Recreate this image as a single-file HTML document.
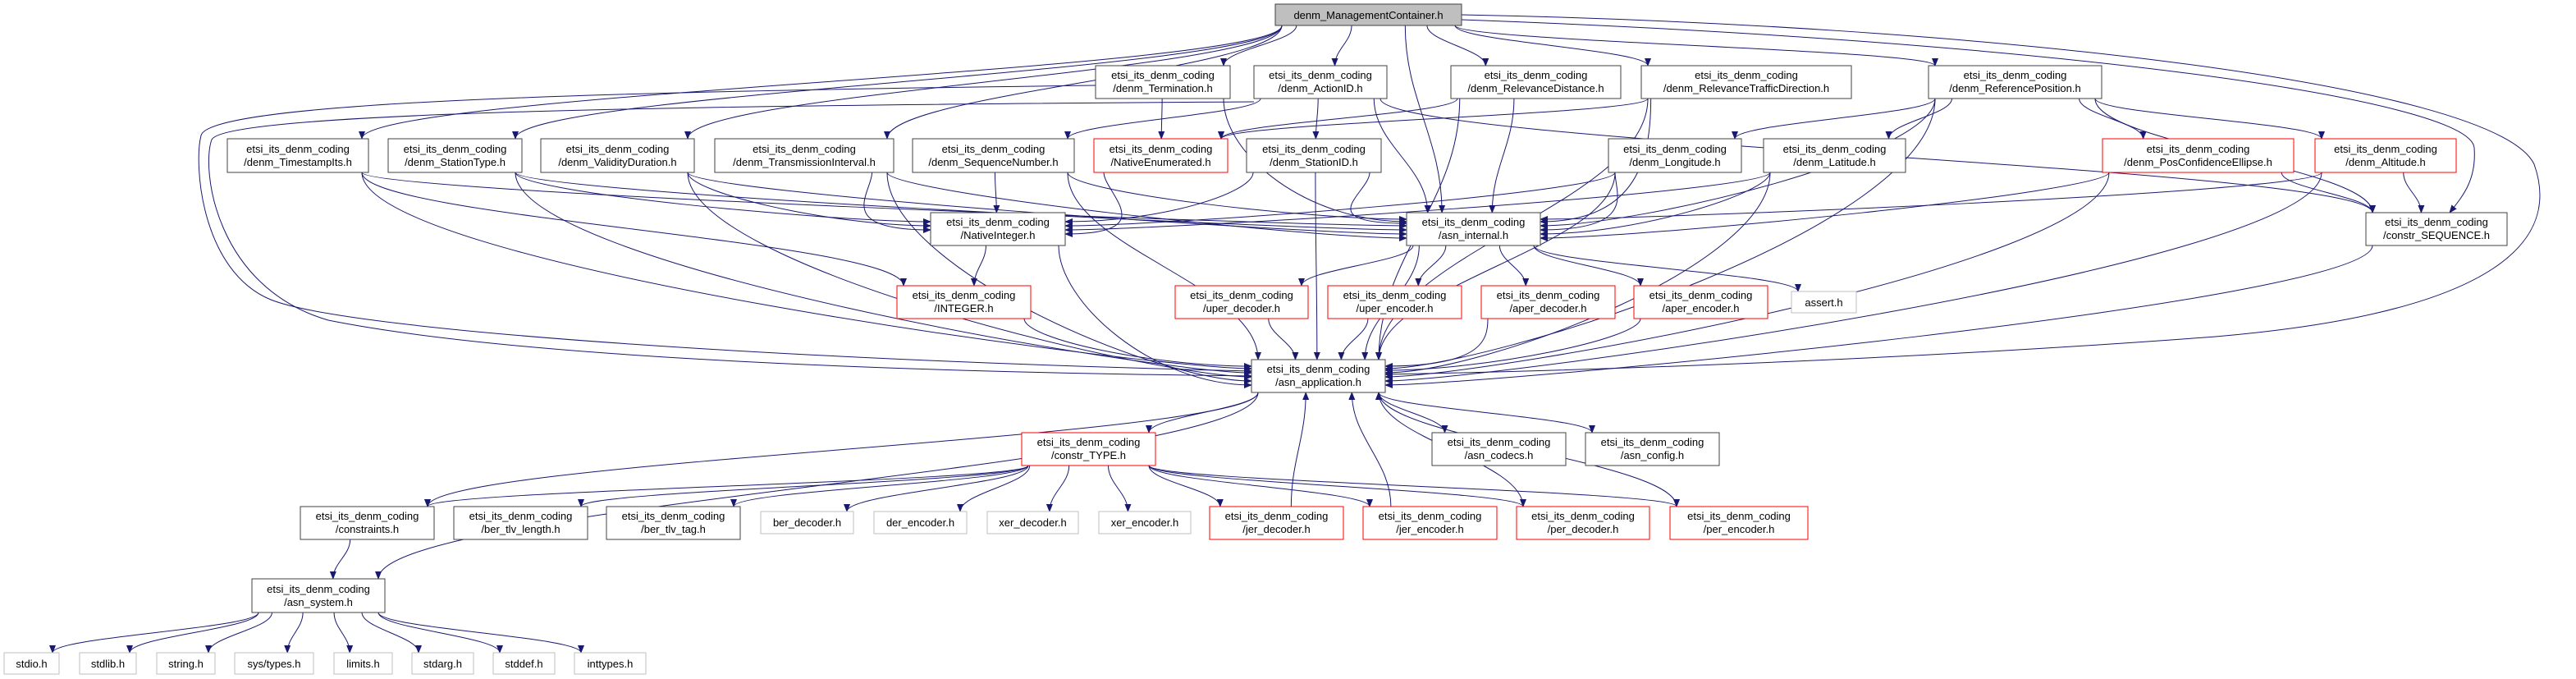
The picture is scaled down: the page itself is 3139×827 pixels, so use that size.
<!DOCTYPE html>
<html><head><meta charset="utf-8">
<style>
html,body{margin:0;padding:0;background:#fff;}
svg{display:block;}
text{font-family:"Liberation Sans",sans-serif;font-size:13px;fill:#000;}
</style></head>
<body>
<svg id="g" width="3139" height="827" viewBox="0 0 3139 827" xmlns="http://www.w3.org/2000/svg">
<defs>
<marker id="ah" markerWidth="10" markerHeight="8" refX="9" refY="4" orient="auto" markerUnits="userSpaceOnUse">
<polygon points="0,0 10,4 0,8" fill="#191970"/>
</marker>
</defs>
<g id="edges" fill="none" stroke="#191970" stroke-width="1"></g>
<g fill="none" stroke="#191970" stroke-width="1">
<path d="M1335,104 C700,112 255,125 245,165 C236,200 245,330 330,365 C430,405 1000,440 1525,452" marker-end="url(#ah)"/>
<path d="M1528,124 C900,128 275,135 258,170 C245,205 262,350 400,390 C600,430 1000,452 1525,458" marker-end="url(#ah)"/>
<path d="M1781,18 C2400,30 3040,100 3088,200 C3120,290 3050,380 2700,410 C2300,440 1900,452 1688,456" marker-end="url(#ah)"/>
<path d="M1781,24 C2500,50 3010,120 3015,180 C3018,220 3000,240 2985,259" marker-end="url(#ah)"/>
</g>
<g id="nodes">
<rect x="1554" y="5" width="227" height="26" fill="#bfbfbf" stroke="#404040"/>
<text x="1667.5" y="23" text-anchor="middle">denm_ManagementContainer.h</text>
<rect x="1335" y="80" width="164" height="40" fill="#fff" stroke="#404040"/><text x="1417" y="96" text-anchor="middle">etsi_its_denm_coding</text><text x="1417" y="112" text-anchor="middle">/denm_Termination.h</text>
<rect x="1528" y="80" width="162" height="40" fill="#fff" stroke="#404040"/><text x="1609" y="96" text-anchor="middle">etsi_its_denm_coding</text><text x="1609" y="112" text-anchor="middle">/denm_ActionID.h</text>
<rect x="1768" y="80" width="207" height="40" fill="#fff" stroke="#404040"/><text x="1871.5" y="96" text-anchor="middle">etsi_its_denm_coding</text><text x="1871.5" y="112" text-anchor="middle">/denm_RelevanceDistance.h</text>
<rect x="2000" y="80" width="256" height="40" fill="#fff" stroke="#404040"/><text x="2128" y="96" text-anchor="middle">etsi_its_denm_coding</text><text x="2128" y="112" text-anchor="middle">/denm_RelevanceTrafficDirection.h</text>
<rect x="2350" y="80" width="211" height="40" fill="#fff" stroke="#404040"/><text x="2455.5" y="96" text-anchor="middle">etsi_its_denm_coding</text><text x="2455.5" y="112" text-anchor="middle">/denm_ReferencePosition.h</text>
<rect x="277" y="169" width="172" height="41" fill="#fff" stroke="#404040"/><text x="363" y="186" text-anchor="middle">etsi_its_denm_coding</text><text x="363" y="202" text-anchor="middle">/denm_TimestampIts.h</text>
<rect x="473" y="169" width="163" height="41" fill="#fff" stroke="#404040"/><text x="554.5" y="186" text-anchor="middle">etsi_its_denm_coding</text><text x="554.5" y="202" text-anchor="middle">/denm_StationType.h</text>
<rect x="659" y="169" width="187" height="41" fill="#fff" stroke="#404040"/><text x="752.5" y="186" text-anchor="middle">etsi_its_denm_coding</text><text x="752.5" y="202" text-anchor="middle">/denm_ValidityDuration.h</text>
<rect x="871" y="169" width="218" height="41" fill="#fff" stroke="#404040"/><text x="980" y="186" text-anchor="middle">etsi_its_denm_coding</text><text x="980" y="202" text-anchor="middle">/denm_TransmissionInterval.h</text>
<rect x="1112" y="169" width="197" height="41" fill="#fff" stroke="#404040"/><text x="1210.5" y="186" text-anchor="middle">etsi_its_denm_coding</text><text x="1210.5" y="202" text-anchor="middle">/denm_SequenceNumber.h</text>
<rect x="1333" y="169" width="163" height="41" fill="#fff" stroke="#ff0000"/><text x="1414.5" y="186" text-anchor="middle">etsi_its_denm_coding</text><text x="1414.5" y="202" text-anchor="middle">/NativeEnumerated.h</text>
<rect x="1519" y="169" width="164" height="41" fill="#fff" stroke="#404040"/><text x="1601" y="186" text-anchor="middle">etsi_its_denm_coding</text><text x="1601" y="202" text-anchor="middle">/denm_StationID.h</text>
<rect x="1960" y="169" width="162" height="41" fill="#fff" stroke="#404040"/><text x="2041" y="186" text-anchor="middle">etsi_its_denm_coding</text><text x="2041" y="202" text-anchor="middle">/denm_Longitude.h</text>
<rect x="2149" y="169" width="173" height="41" fill="#fff" stroke="#404040"/><text x="2235.5" y="186" text-anchor="middle">etsi_its_denm_coding</text><text x="2235.5" y="202" text-anchor="middle">/denm_Latitude.h</text>
<rect x="2562" y="169" width="233" height="41" fill="#fff" stroke="#ff0000"/><text x="2678.5" y="186" text-anchor="middle">etsi_its_denm_coding</text><text x="2678.5" y="202" text-anchor="middle">/denm_PosConfidenceEllipse.h</text>
<rect x="2821" y="169" width="172" height="41" fill="#fff" stroke="#ff0000"/><text x="2907" y="186" text-anchor="middle">etsi_its_denm_coding</text><text x="2907" y="202" text-anchor="middle">/denm_Altitude.h</text>
<rect x="1134" y="259" width="164" height="40" fill="#fff" stroke="#404040"/><text x="1216" y="275" text-anchor="middle">etsi_its_denm_coding</text><text x="1216" y="291" text-anchor="middle">/NativeInteger.h</text>
<rect x="1714" y="259" width="163" height="40" fill="#fff" stroke="#404040"/><text x="1795.5" y="275" text-anchor="middle">etsi_its_denm_coding</text><text x="1795.5" y="291" text-anchor="middle">/asn_internal.h</text>
<rect x="2883" y="259" width="172" height="40" fill="#fff" stroke="#404040"/><text x="2969" y="275" text-anchor="middle">etsi_its_denm_coding</text><text x="2969" y="291" text-anchor="middle">/constr_SEQUENCE.h</text>
<rect x="1093" y="348" width="163" height="40" fill="#fff" stroke="#ff0000"/><text x="1174.5" y="364" text-anchor="middle">etsi_its_denm_coding</text><text x="1174.5" y="380" text-anchor="middle">/INTEGER.h</text>
<rect x="1432" y="348" width="162" height="40" fill="#fff" stroke="#ff0000"/><text x="1513" y="364" text-anchor="middle">etsi_its_denm_coding</text><text x="1513" y="380" text-anchor="middle">/uper_decoder.h</text>
<rect x="1618" y="348" width="163" height="40" fill="#fff" stroke="#ff0000"/><text x="1699.5" y="364" text-anchor="middle">etsi_its_denm_coding</text><text x="1699.5" y="380" text-anchor="middle">/uper_encoder.h</text>
<rect x="1805" y="348" width="163" height="40" fill="#fff" stroke="#ff0000"/><text x="1886.5" y="364" text-anchor="middle">etsi_its_denm_coding</text><text x="1886.5" y="380" text-anchor="middle">/aper_decoder.h</text>
<rect x="1991" y="348" width="163" height="40" fill="#fff" stroke="#ff0000"/><text x="2072.5" y="364" text-anchor="middle">etsi_its_denm_coding</text><text x="2072.5" y="380" text-anchor="middle">/aper_encoder.h</text>
<rect x="2183" y="355" width="79" height="26" fill="#fff" stroke="#bfbfbf"/><text x="2222.5" y="373" text-anchor="middle">assert.h</text>
<rect x="1525" y="438" width="163" height="40" fill="#fff" stroke="#404040"/><text x="1606.5" y="454" text-anchor="middle">etsi_its_denm_coding</text><text x="1606.5" y="470" text-anchor="middle">/asn_application.h</text>
<rect x="1245" y="527" width="163" height="40" fill="#fff" stroke="#ff0000"/><text x="1326.5" y="543" text-anchor="middle">etsi_its_denm_coding</text><text x="1326.5" y="559" text-anchor="middle">/constr_TYPE.h</text>
<rect x="1745" y="527" width="163" height="40" fill="#fff" stroke="#404040"/><text x="1826.5" y="543" text-anchor="middle">etsi_its_denm_coding</text><text x="1826.5" y="559" text-anchor="middle">/asn_codecs.h</text>
<rect x="1932" y="527" width="163" height="40" fill="#fff" stroke="#404040"/><text x="2013.5" y="543" text-anchor="middle">etsi_its_denm_coding</text><text x="2013.5" y="559" text-anchor="middle">/asn_config.h</text>
<rect x="366" y="617" width="163" height="40" fill="#fff" stroke="#404040"/><text x="447.5" y="633" text-anchor="middle">etsi_its_denm_coding</text><text x="447.5" y="649" text-anchor="middle">/constraints.h</text>
<rect x="553" y="617" width="163" height="40" fill="#fff" stroke="#404040"/><text x="634.5" y="633" text-anchor="middle">etsi_its_denm_coding</text><text x="634.5" y="649" text-anchor="middle">/ber_tlv_length.h</text>
<rect x="739" y="617" width="163" height="40" fill="#fff" stroke="#404040"/><text x="820.5" y="633" text-anchor="middle">etsi_its_denm_coding</text><text x="820.5" y="649" text-anchor="middle">/ber_tlv_tag.h</text>
<rect x="927" y="623" width="113" height="27" fill="#fff" stroke="#bfbfbf"/><text x="983.5" y="641" text-anchor="middle">ber_decoder.h</text>
<rect x="1065" y="623" width="113" height="27" fill="#fff" stroke="#bfbfbf"/><text x="1121.5" y="641" text-anchor="middle">der_encoder.h</text>
<rect x="1203" y="623" width="111" height="27" fill="#fff" stroke="#bfbfbf"/><text x="1258.5" y="641" text-anchor="middle">xer_decoder.h</text>
<rect x="1339" y="623" width="112" height="27" fill="#fff" stroke="#bfbfbf"/><text x="1395" y="641" text-anchor="middle">xer_encoder.h</text>
<rect x="1474" y="617" width="163" height="40" fill="#fff" stroke="#ff0000"/><text x="1555.5" y="633" text-anchor="middle">etsi_its_denm_coding</text><text x="1555.5" y="649" text-anchor="middle">/jer_decoder.h</text>
<rect x="1661" y="617" width="163" height="40" fill="#fff" stroke="#ff0000"/><text x="1742.5" y="633" text-anchor="middle">etsi_its_denm_coding</text><text x="1742.5" y="649" text-anchor="middle">/jer_encoder.h</text>
<rect x="1848" y="617" width="162" height="40" fill="#fff" stroke="#ff0000"/><text x="1929" y="633" text-anchor="middle">etsi_its_denm_coding</text><text x="1929" y="649" text-anchor="middle">/per_decoder.h</text>
<rect x="2035" y="617" width="168" height="40" fill="#fff" stroke="#ff0000"/><text x="2119" y="633" text-anchor="middle">etsi_its_denm_coding</text><text x="2119" y="649" text-anchor="middle">/per_encoder.h</text>
<rect x="307" y="705" width="162" height="41" fill="#fff" stroke="#404040"/><text x="388" y="722" text-anchor="middle">etsi_its_denm_coding</text><text x="388" y="738" text-anchor="middle">/asn_system.h</text>
<rect x="5" y="795" width="67" height="26" fill="#fff" stroke="#bfbfbf"/><text x="38.5" y="813" text-anchor="middle">stdio.h</text>
<rect x="97" y="795" width="69" height="26" fill="#fff" stroke="#bfbfbf"/><text x="131.5" y="813" text-anchor="middle">stdlib.h</text>
<rect x="191" y="795" width="71" height="26" fill="#fff" stroke="#bfbfbf"/><text x="226.5" y="813" text-anchor="middle">string.h</text>
<rect x="286" y="795" width="96" height="26" fill="#fff" stroke="#bfbfbf"/><text x="334" y="813" text-anchor="middle">sys/types.h</text>
<rect x="407" y="795" width="71" height="26" fill="#fff" stroke="#bfbfbf"/><text x="442.5" y="813" text-anchor="middle">limits.h</text>
<rect x="502" y="795" width="75" height="26" fill="#fff" stroke="#bfbfbf"/><text x="539.5" y="813" text-anchor="middle">stdarg.h</text>
<rect x="601" y="795" width="75" height="26" fill="#fff" stroke="#bfbfbf"/><text x="638.5" y="813" text-anchor="middle">stddef.h</text>
<rect x="700" y="795" width="87" height="26" fill="#fff" stroke="#bfbfbf"/><text x="743.5" y="813" text-anchor="middle">inttypes.h</text>
</g>
</svg>
<script>
var N={
main:[1554,1781,5,31],term:[1335,1499,80,120],act:[1528,1690,80,120],rdist:[1768,1975,80,120],rtd:[2000,2256,80,120],ref:[2350,2561,80,120],
ts:[277,449,169,210],st:[473,636,169,210],vd:[659,846,169,210],ti:[871,1089,169,210],sn:[1112,1309,169,210],ne:[1333,1496,169,210],sid:[1519,1683,169,210],lon:[1960,2122,169,210],lat:[2149,2322,169,210],pce:[2562,2795,169,210],alt:[2821,2993,169,210],
ni:[1134,1298,259,299],ai:[1714,1877,259,299],seq:[2883,3055,259,299],
int:[1093,1256,348,388],ud:[1432,1594,348,388],ue:[1618,1781,348,388],ad:[1805,1968,348,388],ae:[1991,2154,348,388],as:[2183,2262,355,381],
app:[1525,1688,438,478],ct:[1245,1408,527,567],cod:[1745,1908,527,567],cfg:[1932,2095,527,567],
cons:[366,529,617,657],btl:[553,716,617,657],btt:[739,902,617,657],bd:[927,1040,623,650],de:[1065,1178,623,650],xd:[1203,1314,623,650],xe:[1339,1451,623,650],jd:[1474,1637,617,657],je:[1661,1824,617,657],pd:[1848,2010,617,657],pe:[2035,2203,617,657],
sys:[307,469,705,746],s1:[5,72,795,821],s2:[97,166,795,821],s3:[191,262,795,821],s4:[286,382,795,821],s5:[407,478,795,821],s6:[502,577,795,821],s7:[601,676,795,821],s8:[700,787,795,821]};
var E=[];
function add(s,ts){ts.split(' ').forEach(function(t){E.push([s,t]);});}
add('main','term act rdist rtd ref ts st vd ti ai');
add('term','ne ai');add('act','sn sid ai seq');add('rdist','ne ai app');add('rtd','ne ai app');
add('ref','lon lat pce alt ai app seq');
add('ts','int ai app');add('st','ni ai app');add('vd','ni ai app');add('ti','ni ai app');
add('sn','ni ai app');add('sid','ni ai app');add('lon','ni ai app');add('lat','ni ai app');
add('ne','ni');add('pce','ai seq app');add('alt','ai seq app');
add('ni','int app');add('ai','ud ue ad ae as app');add('seq','app');
add('int','app');add('ud','app');add('ue','app');add('ad','app');add('ae','app');
add('app','ct cod cfg sys cons');
add('ct','cons btl btt bd de xd xe jd je pd pe');
add('jd','app');add('je','app');add('pd','app');add('pe','app');
add('cons','sys');add('sys','s1 s2 s3 s4 s5 s6 s7 s8');
var g=document.getElementById('edges'),h='';
function cl(v,a,b){return Math.max(a+8,Math.min(b-8,v));}
var cnt={};
E.forEach(function(e){
 var s=N[e[0]],t=N[e[1]];
 var scx=(s[0]+s[1])/2,tcx=(t[0]+t[1])/2,x1,y1,x2,y2,p;
 var down=t[2]>s[3];
 x1=cl(scx+(tcx-scx)*0.35,s[0],s[1]);y1=down?s[3]:s[2];
 var ty=down?t[2]:t[3];
 var dx=tcx-scx, dy=Math.abs(ty-y1);
 if(down && Math.abs(dx)>2.2*dy && (e[1]=='app'||e[1]=='ai'||e[1]=='ni')){
  var k=e[1]+(dx>0?'L':'R'); cnt[k]=(cnt[k]||0)+1;
  y2=t[2]+6+((cnt[k]*5)%28);
  x2=dx>0?t[0]:t[1];
  var c=dx>0?-120:120;
  p='M'+x1+','+y1+' C'+x1+','+(y1+dy*0.5)+' '+(x2+c)+','+y2+' '+x2+','+y2;
 } else {
  x2=cl(tcx+(scx-tcx)*0.3,t[0],t[1]);y2=ty;
  var d=(y2-y1)*0.4;
  p='M'+x1+','+y1+' C'+x1+','+(y1+d)+' '+x2+','+(y2-d)+' '+x2+','+y2;
 }
 h+='<path d="'+p+'" marker-end="url(#ah)"/>';
});
g.innerHTML=h;
</script>
</body></html>
